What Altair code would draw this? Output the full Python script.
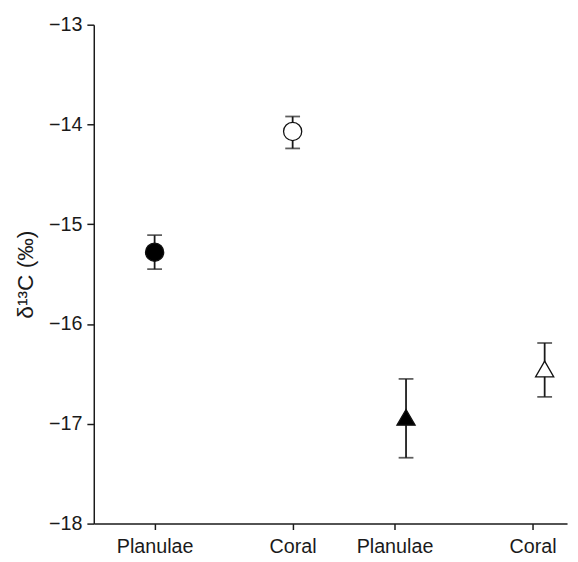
import altair as alt
import pandas as pd

# --- data ---
groups = ["Planulae", "Coral", "Planulae", "Coral"]
x_pos = [0.617, 2.017, 3.167, 4.573]          # marker positions
tick_pos = [0.617, 2.017, 3.05, 4.45]          # axis tick positions
tick_labels = ["Planulae", "Coral", "Planulae", "Coral"]
mean = [-15.28, -14.07, -16.935, -16.45]
upper = [-15.11, -13.92, -16.55, -16.19]
lower = [-15.45, -14.24, -17.34, -16.73]
shapes = ["circle", "circle", "triangle-up", "triangle-up"]
fills = ["black", "white", "black", "white"]
y_ticks = [-18, -17, -16, -15, -14, -13]

df = pd.DataFrame({
    "group": groups, "x": x_pos, "mean": mean, "upper": upper, "lower": lower,
    "shape": shapes, "fill": fills,
})

# label expression built from tick arrays
expr = "''"
for v, lab in reversed(list(zip(tick_pos, tick_labels))):
    expr = f"abs(datum.value - {v}) < 0.001 ? '{lab}' : ({expr})"

FONT = "Liberation Sans"
INK = "#1a1a1a"

xscale = alt.Scale(domain=[0, 4.8], nice=False, zero=False)
yscale = alt.Scale(domain=[-18, -13], nice=False, zero=False)

xaxis = alt.Axis(values=tick_pos, labelExpr=expr, title=None, grid=False,
                 labelFontSize=20, labelFont=FONT, labelColor=INK,
                 tickSize=6, tickWidth=1.5, tickColor=INK,
                 domainColor=INK, domainWidth=1.5, labelPadding=7,
                 labelFlush=False, labelOverlap=False)
yaxis = alt.Axis(values=y_ticks, title="δ¹³C (‰)", grid=False,
                 labelFontSize=20, labelFont=FONT, labelColor=INK,
                 titleFont=FONT, titleFontSize=23, titleFontWeight="normal",
                 titleColor=INK, titlePadding=11,
                 tickSize=7, tickWidth=1.5, tickColor=INK,
                 domainColor=INK, domainWidth=1.5, labelPadding=5,
                 format="d")

base = alt.Chart(df)

bars = base.mark_rule(color=INK, strokeWidth=1.8).encode(
    x=alt.X("x:Q", scale=xscale, axis=xaxis),
    y=alt.Y("lower:Q", scale=yscale, axis=yaxis),
    y2="upper:Q",
)

caps_hi = base.mark_tick(orient="horizontal", color=INK, size=15, thickness=1.8).encode(
    x=alt.X("x:Q", scale=xscale),
    y=alt.Y("upper:Q", scale=yscale),
)
caps_lo = base.mark_tick(orient="horizontal", color=INK, size=15, thickness=1.8).encode(
    x=alt.X("x:Q", scale=xscale),
    y=alt.Y("lower:Q", scale=yscale),
)

points = base.mark_point(filled=True, stroke="#111", strokeWidth=1.3, opacity=1).encode(
    x=alt.X("x:Q", scale=xscale),
    y=alt.Y("mean:Q", scale=yscale),
    shape=alt.Shape("shape:N", scale=None),
    fill=alt.Fill("fill:N", scale=None),
    size=alt.value(340),
)

chart = alt.layer(bars, caps_hi, caps_lo, points).properties(
    width=480, height=506,
    autosize=alt.AutoSizeParams(type="none"),
    padding={"left": 87, "top": 13, "right": 3, "bottom": 34},
).configure_view(stroke=None)

chart.save("out.html", embed_options={"renderer": "svg", "actions": False})
